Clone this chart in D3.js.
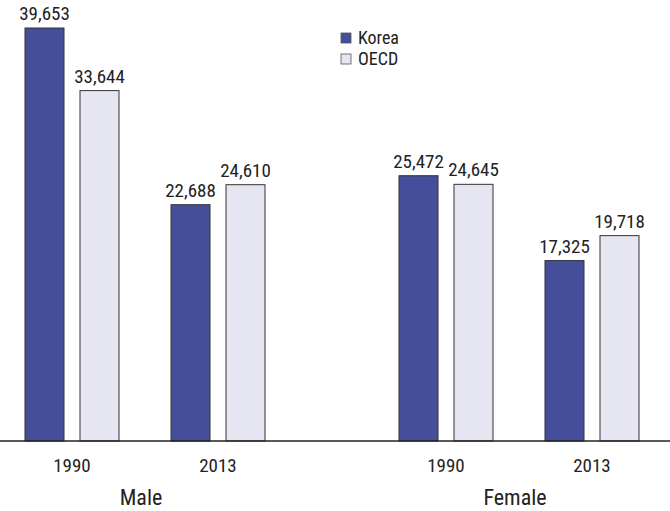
<!DOCTYPE html>
<html><head><meta charset="utf-8">
<script src="https://cdn.jsdelivr.net/npm/d3@7"></script>
<style>
body{margin:0;background:#fff;}
text{font-family:"Liberation Sans Narrow","Roboto Condensed","Arial Narrow","Liberation Sans",sans-serif;fill:#222;}
</style></head>
<body><svg id="c" width="670" height="511"></svg>
<script>
const groups = ["Male", "Female"];
const years = ["1990", "2013"];
const series = ["Korea", "OECD"];
const korea = [[39653, 22688], [25472, 17325]];
const oecd = [[33644, 24610], [24645, 19718]];
const colors = {Korea: "#444e9b", OECD: "#e6e6f2"};

const svg = d3.select("#c");
const baseY = 441;
const y = d3.scaleLinear().domain([0, 42343]).range([baseY, 0]);
const gx = d3.scalePoint().domain(groups).range([145, 519]);
const yx = d3.scalePoint().domain(years).range([-73, 73]);
const sx = d3.scalePoint().domain(series).range([-27.5, 27.5]);
const bw = 39;

const data = [];
groups.forEach((g, gi) => years.forEach((yr, yi) => {
  data.push({g, yr, s: "Korea", v: korea[gi][yi]});
  data.push({g, yr, s: "OECD", v: oecd[gi][yi]});
}));
const cx = d => gx(d.g) + yx(d.yr) + sx(d.s);
const fmt = d3.format(",");

svg.selectAll("rect.bar").data(data).join("rect").attr("class", "bar")
  .attr("x", d => cx(d) - bw / 2).attr("width", bw)
  .attr("y", d => y(d.v)).attr("height", d => baseY - y(d.v))
  .attr("fill", d => colors[d.s]).attr("stroke", "#333").attr("stroke-width", 1);

svg.selectAll("text.val").data(data).join("text").attr("class", "val")
  .attr("x", d => cx(d)).attr("y", d => y(d.v) - 8)
  .attr("text-anchor", "middle").attr("font-size", 19).text(d => fmt(d.v));

svg.append("line").attr("x1", 0).attr("x2", 670).attr("y1", baseY).attr("y2", baseY)
  .attr("stroke", "#222").attr("stroke-width", 1.5);

groups.forEach(g => {
  years.forEach(yr => {
    svg.append("text").attr("x", gx(g) + yx(yr)).attr("y", 472)
      .attr("text-anchor", "middle").attr("font-size", 19).text(yr);
  });
  svg.append("text").attr("x", gx(g) - 4).attr("y", 505)
    .attr("text-anchor", "middle").attr("font-size", 22).text(g);
});

const lg = svg.append("g");
series.forEach((s, i) => {
  const ly = 33 + i * 21;
  lg.append("rect").attr("x", 341).attr("y", ly).attr("width", 10).attr("height", 10)
    .attr("fill", colors[s]).attr("stroke", "#555").attr("stroke-width", 0.8);
  lg.append("text").attr("x", 358).attr("y", ly + 11).attr("font-size", 18).text(s);
});
</script></body></html>
